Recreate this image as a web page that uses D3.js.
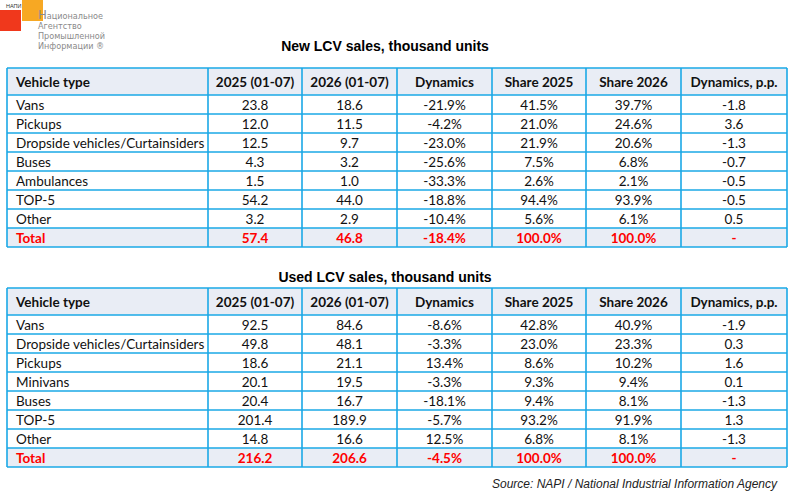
<!DOCTYPE html>
<html>
<head>
<meta charset="UTF-8">
<title>LCV sales</title>
<script src="https://d3js.org/d3.v7.min.js"></script>
<style>
 body { margin: 0; background: #fff; }
 svg { display: block; }
</style>
</head>
<body>
<script>
// table data
var columns = ["Vehicle type", "2025 (01-07)", "2026 (01-07)", "Dynamics", "Share 2025", "Share 2026", "Dynamics, p.p."];

var newTitle = "New LCV sales, thousand units";
var newTypes = ["Vans", "Pickups", "Dropside vehicles/Curtainsiders", "Buses", "Ambulances", "TOP-5", "Other", "Total"];
var new2025 = ["23.8", "12.0", "12.5", "4.3", "1.5", "54.2", "3.2", "57.4"];
var new2026 = ["18.6", "11.5", "9.7", "3.2", "1.0", "44.0", "2.9", "46.8"];
var newDyn = ["-21.9%", "-4.2%", "-23.0%", "-25.6%", "-33.3%", "-18.8%", "-10.4%", "-18.4%"];
var newShare25 = ["41.5%", "21.0%", "21.9%", "7.5%", "2.6%", "94.4%", "5.6%", "100.0%"];
var newShare26 = ["39.7%", "24.6%", "20.6%", "6.8%", "2.1%", "93.9%", "6.1%", "100.0%"];
var newDynPP = ["-1.8", "3.6", "-1.3", "-0.7", "-0.5", "-0.5", "0.5", "-"];

var usedTitle = "Used LCV sales, thousand units";
var usedTypes = ["Vans", "Dropside vehicles/Curtainsiders", "Pickups", "Minivans", "Buses", "TOP-5", "Other", "Total"];
var used2025 = ["92.5", "49.8", "18.6", "20.1", "20.4", "201.4", "14.8", "216.2"];
var used2026 = ["84.6", "48.1", "21.1", "19.5", "16.7", "189.9", "16.6", "206.6"];
var usedDyn = ["-8.6%", "-3.3%", "13.4%", "-3.3%", "-18.1%", "-5.7%", "12.5%", "-4.5%"];
var usedShare25 = ["42.8%", "23.0%", "8.6%", "9.3%", "9.4%", "93.2%", "6.8%", "100.0%"];
var usedShare26 = ["40.9%", "23.3%", "10.2%", "9.4%", "8.1%", "91.9%", "8.1%", "100.0%"];
var usedDynPP = ["-1.9", "0.3", "1.6", "0.1", "-1.3", "1.3", "-1.3", "-"];

var source = "Source: NAPI / National Industrial Information Agency";

// layout
var W = 800, H = 493;
var colEdges = [7, 208, 302, 397, 492, 586, 681, 787];
var headerH = 27, rowH = 19;
var border = "#1aa8e6", headBg = "#e9edf5", red = "#ff0000";
var cellFont = "Lato, 'Open Sans', sans-serif";
var cellSize = "13.5px";

var svg = d3.select("body").append("svg").attr("width", W).attr("height", H);

var x = d3.scaleOrdinal().domain(d3.range(colEdges.length)).range(colEdges);

function drawTable(title, titleY, top, cols) {
  var n = cols[0].length;
  var y = d3.scaleLinear().domain([0, n]).range([top + headerH, top + headerH + n * rowH]);
  var g = svg.append("g");

  g.append("text")
    .attr("x", 385).attr("y", titleY)
    .attr("text-anchor", "middle")
    .style("font-family", "'Liberation Sans', Arial, sans-serif")
    .style("font-weight", "bold").style("font-size", "14px")
    .text(title);

  // backgrounds
  g.append("rect").attr("x", x(0)).attr("y", top)
    .attr("width", x(7) - x(0)).attr("height", headerH).attr("fill", headBg);
  g.append("rect").attr("x", x(0)).attr("y", y(n - 1))
    .attr("width", x(7) - x(0)).attr("height", rowH).attr("fill", headBg);

  // header texts
  g.selectAll(".hd").data(columns).enter().append("text")
    .attr("x", function (d, i) { return i === 0 ? x(0) + 9 : (x(i) + x(i + 1)) / 2; })
    .attr("y", top + headerH / 2 + 5)
    .attr("text-anchor", function (d, i) { return i === 0 ? "start" : "middle"; })
    .style("font-family", cellFont).style("font-weight", "bold").style("font-size", cellSize)
    .attr("fill", "#111")
    .text(function (d) { return d; });

  // body rows
  var rows = d3.range(n).map(function (r) {
    return cols.map(function (c) { return c[r]; });
  });
  var rg = g.selectAll(".row").data(rows).enter().append("g")
    .attr("transform", function (d, r) { return "translate(0," + y(r) + ")"; });
  rg.selectAll("text").data(function (d, r) {
      return d.map(function (v) { return { v: v, total: r === n - 1 }; });
    })
    .enter().append("text")
    .attr("x", function (d, i) { return i === 0 ? x(0) + 9 : (x(i) + x(i + 1)) / 2; })
    .attr("y", rowH / 2 + 5)
    .attr("text-anchor", function (d, i) { return i === 0 ? "start" : "middle"; })
    .style("font-family", cellFont).style("font-size", cellSize)
    .style("font-weight", function (d) { return d.total ? "bold" : "normal"; })
    .attr("fill", function (d) { return d.total ? red : "#111"; })
    .text(function (d) { return d.v; });

  // grid lines
  var hy = [top].concat(d3.range(n + 1).map(y));
  g.selectAll(".hl").data(hy).enter().append("line")
    .attr("x1", x(0)).attr("x2", x(7))
    .attr("y1", function (d) { return d; }).attr("y2", function (d) { return d; })
    .attr("stroke", border).attr("stroke-width", 1.6);
  g.selectAll(".vl").data(d3.range(8)).enter().append("line")
    .attr("x1", x).attr("x2", x)
    .attr("y1", top).attr("y2", y(n))
    .attr("stroke", border).attr("stroke-width", 1.6);
}

drawTable(newTitle, 51, 68, [newTypes, new2025, new2026, newDyn, newShare25, newShare26, newDynPP]);
drawTable(usedTitle, 282, 288, [usedTypes, used2025, used2026, usedDyn, usedShare25, usedShare26, usedDynPP]);

svg.append("text")
  .attr("x", 777).attr("y", 488)
  .attr("text-anchor", "end")
  .style("font-family", "'Liberation Sans', Arial, sans-serif")
  .style("font-style", "italic").style("font-size", "12px")
  .attr("fill", "#222")
  .text(source);

// logo
var logo = svg.append("g");
logo.append("rect").attr("x", 22).attr("y", 0).attr("width", 21).attr("height", 21).attr("fill", "#f7a823");
logo.append("rect").attr("x", 0).attr("y", 10).attr("width", 21).attr("height", 21).attr("fill", "#f0381c");
logo.append("text").attr("x", 6).attr("y", 8)
  .style("font-family", "'Liberation Sans', Arial, sans-serif").style("font-size", "5.5px")
  .attr("fill", "#333").text("НАПИ");
var logoLines = ["ациональное", "Агентство", "Промышленной", "Информации ®"];
var ll = logo.selectAll(".ll").data(logoLines).enter().append("text")
  .attr("x", 38)
  .attr("y", function (d, i) { return 19 + i * 10; })
  .style("font-family", "'Liberation Sans Narrow', 'DejaVu Sans Condensed', sans-serif").style("font-size", "9px")
  .attr("fill", "#8a8a8a");
ll.filter(function (d, i) { return i === 0; }).append("tspan")
  .style("font-size", "13px").text("Н");
ll.append("tspan").text(function (d) { return d; });
</script>
</body>
</html>
